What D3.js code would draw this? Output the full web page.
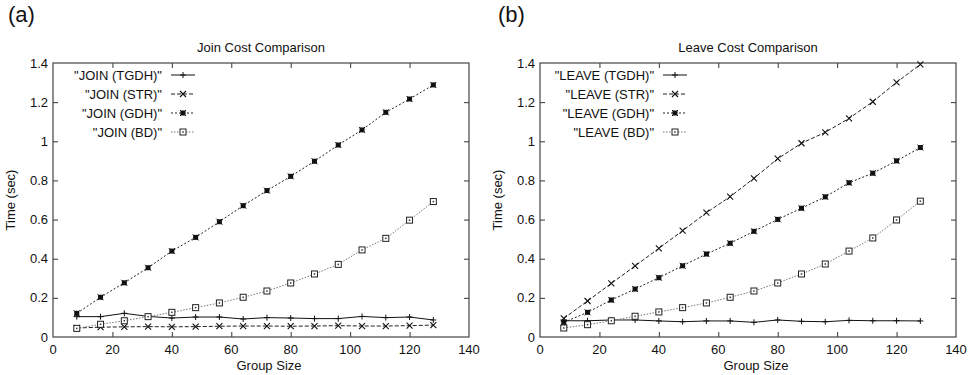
<!DOCTYPE html>
<html lang="en">
<head>
	<meta charset="UTF-8">
	<title>Join / Leave Cost Comparison</title>
	<script src="https://cdn.jsdelivr.net/npm/d3@7"></script>
	<style>
		body { margin: 0; background: white; }
		svg { display: block; font-family: "Liberation Sans", Arial, Helvetica, sans-serif; }
	</style>
</head>
<body>
	<div id="vis"></div>

	<script>
		var width = 970;
		var height = 375;

		// group sizes on the x axis
		var groupSizes = [8, 16, 24, 32, 40, 48, 56, 64, 72, 80, 88, 96, 104, 112, 120, 128];

		// join times (sec)
		var joinTGDH = [0.104, 0.104, 0.121, 0.105, 0.097, 0.102, 0.102, 0.092, 0.099, 0.097, 0.094, 0.094, 0.105, 0.099, 0.102, 0.087];
		var joinSTR  = [0.046, 0.050, 0.052, 0.053, 0.052, 0.053, 0.055, 0.056, 0.056, 0.055, 0.056, 0.058, 0.056, 0.056, 0.058, 0.061];
		var joinGDH  = [0.121, 0.203, 0.277, 0.354, 0.439, 0.509, 0.589, 0.671, 0.748, 0.821, 0.898, 0.981, 1.058, 1.148, 1.216, 1.288];
		var joinBD   = [0.044, 0.065, 0.083, 0.104, 0.126, 0.150, 0.174, 0.203, 0.235, 0.276, 0.322, 0.371, 0.445, 0.504, 0.597, 0.692];

		// leave times (sec)
		var leaveTGDH = [0.083, 0.083, 0.087, 0.087, 0.082, 0.078, 0.082, 0.082, 0.075, 0.087, 0.080, 0.078, 0.085, 0.083, 0.083, 0.082];
		var leaveSTR  = [0.095, 0.184, 0.274, 0.363, 0.453, 0.543, 0.635, 0.717, 0.811, 0.911, 0.990, 1.046, 1.117, 1.202, 1.301, 1.393];
		var leaveGDH  = [0.075, 0.126, 0.189, 0.245, 0.303, 0.364, 0.424, 0.479, 0.540, 0.601, 0.658, 0.716, 0.788, 0.837, 0.900, 0.968];
		var leaveBD   = [0.046, 0.063, 0.083, 0.106, 0.128, 0.150, 0.174, 0.203, 0.235, 0.276, 0.322, 0.373, 0.439, 0.506, 0.598, 0.694];

		// ticks
		var xTicks = [0, 20, 40, 60, 80, 100, 120, 140];
		var yTicks = [0, 0.2, 0.4, 0.6, 0.8, 1, 1.2, 1.4];

		var svg = d3.select("#vis").append("svg")
				.attr("width", width)
				.attr("height", height);

		// line style + point type per series (gnuplot style)
		var styles = [
			{ dash: null,      color: "#111", marker: "plus" },
			{ dash: "4,2",     color: "#222", marker: "cross" },
			{ dash: "2,2",     color: "#222", marker: "star" },
			{ dash: "1.5,1.5", color: "#777", marker: "box" }
		];

		function drawMarker(g, type, x, y) {
			var s = 3;
			if (type == "plus") {
				g.append("path").attr("d", "M" + (x - s) + "," + y + "h" + (2 * s) + "M" + x + "," + (y - s) + "v" + (2 * s))
					.attr("stroke", "#111").attr("stroke-width", 1);
			}
			else if (type == "cross") {
				g.append("path").attr("d", "M" + (x - s) + "," + (y - s) + "l" + (2 * s) + "," + (2 * s) + "M" + (x - s) + "," + (y + s) + "l" + (2 * s) + "," + (-2 * s))
					.attr("stroke", "#111").attr("stroke-width", 1.1);
			}
			else if (type == "star") {
				g.append("rect").attr("x", x - 2.5).attr("y", y - 2.5).attr("width", 5).attr("height", 5).attr("fill", "#111");
				g.append("path").attr("d", "M" + (x - s) + "," + (y - s) + "l" + (2 * s) + "," + (2 * s) + "M" + (x - s) + "," + (y + s) + "l" + (2 * s) + "," + (-2 * s))
					.attr("stroke", "#111").attr("stroke-width", 1);
			}
			else {
				g.append("rect").attr("x", x - 3).attr("y", y - 3).attr("width", 6).attr("height", 6)
					.attr("fill", "white").attr("stroke", "#222").attr("stroke-width", 1);
				g.append("rect").attr("x", x - 0.75).attr("y", y - 0.75).attr("width", 1.5).attr("height", 1.5).attr("fill", "#333");
			}
		}

		function drawPanel(p) {
			var x = d3.scaleLinear().domain([0, 140]).range([p.left, p.right]);
			var y = d3.scaleLinear().domain([0, 1.4]).range([p.bottom, p.top]);
			var g = svg.append("g");

			// panel letter
			g.append("text").attr("x", p.labelX).attr("y", 22)
				.attr("font-size", 22).attr("fill", "#111").text(p.letter);

			// title
			g.append("text").attr("x", (p.left + p.right) / 2).attr("y", 52)
				.attr("text-anchor", "middle").attr("font-size", 13).attr("fill", "#111").text(p.title);

			// inward ticks on all four sides (mirrored)
			var axes = [
				{ axis: d3.axisBottom(x).tickValues(xTicks.slice(1, -1)), t: "translate(0," + p.bottom + ")" },
				{ axis: d3.axisTop(x).tickValues(xTicks.slice(1, -1)), t: "translate(0," + p.top + ")" },
				{ axis: d3.axisLeft(y).tickValues(yTicks.slice(1, -1)), t: "translate(" + p.left + ",0)" },
				{ axis: d3.axisRight(y).tickValues(yTicks.slice(1, -1)), t: "translate(" + p.right + ",0)" }
			];
			axes.forEach(function(a) {
				var ag = g.append("g").attr("transform", a.t)
					.call(a.axis.tickSizeInner(-5).tickSizeOuter(0).tickFormat(""));
				ag.select(".domain").remove();
				ag.selectAll("line").attr("stroke", "#333");
			});

			// tick labels
			g.selectAll(".xlab").data(xTicks).enter().append("text")
				.attr("x", function(d) { return x(d); }).attr("y", p.bottom + 17)
				.attr("text-anchor", "middle").attr("font-size", 13).attr("fill", "#111")
				.text(function(d) { return d; });
			g.selectAll(".ylab").data(yTicks).enter().append("text")
				.attr("x", p.left - 5).attr("y", function(d) { return y(d) + 4.5; })
				.attr("text-anchor", "end").attr("font-size", 13).attr("fill", "#111")
				.text(function(d) { return d3.format("")(+d.toFixed(1)); });

			// frame
			g.append("rect").attr("x", p.left).attr("y", p.top)
				.attr("width", p.right - p.left).attr("height", p.bottom - p.top)
				.attr("fill", "none").attr("stroke", "#444").attr("stroke-width", 1.2);

			// axis labels
			g.append("text").attr("x", (p.left + p.right) / 2 + 8).attr("y", p.bottom + 33)
				.attr("text-anchor", "middle").attr("font-size", 13).attr("fill", "#111").text("Group Size");
			g.append("text")
				.attr("transform", "translate(" + (p.left - 38) + "," + ((p.top + p.bottom) / 2) + ") rotate(-90)")
				.attr("text-anchor", "middle").attr("font-size", 13).attr("fill", "#111").text("Time (sec)");

			// series
			var line = d3.line()
				.x(function(d, i) { return x(groupSizes[i]); })
				.y(function(d) { return y(d); });

			p.series.forEach(function(vals, k) {
				var st = styles[k];
				g.append("path").datum(vals).attr("d", line)
					.attr("fill", "none").attr("stroke", st.color).attr("stroke-width", 1)
					.attr("stroke-dasharray", st.dash);
				vals.forEach(function(v, i) { drawMarker(g, st.marker, x(groupSizes[i]), y(v)); });

				// legend entry
				var ly = 75 + k * 19;
				g.append("text").attr("x", p.keyX).attr("y", ly + 4.5)
					.attr("text-anchor", "end").attr("font-size", 13).attr("fill", "#111").text(p.names[k]);
				g.append("line").attr("x1", p.keyX + 9).attr("x2", p.keyX + 33).attr("y1", ly).attr("y2", ly)
					.attr("stroke", st.color).attr("stroke-width", 1).attr("stroke-dasharray", st.dash);
				drawMarker(g, st.marker, p.keyX + 21, ly);
			});
		}

		drawPanel({
			letter: "(a)", labelX: 8, title: "Join Cost Comparison",
			left: 53, right: 469, top: 63, bottom: 337, keyX: 162,
			names: ['"JOIN (TGDH)"', '"JOIN (STR)"', '"JOIN (GDH)"', '"JOIN (BD)"'],
			series: [joinTGDH, joinSTR, joinGDH, joinBD]
		});

		drawPanel({
			letter: "(b)", labelX: 498, title: "Leave Cost Comparison",
			left: 540, right: 956, top: 63, bottom: 337, keyX: 654,
			names: ['"LEAVE (TGDH)"', '"LEAVE (STR)"', '"LEAVE (GDH)"', '"LEAVE (BD)"'],
			series: [leaveTGDH, leaveSTR, leaveGDH, leaveBD]
		});
	</script>
</body>
</html>
